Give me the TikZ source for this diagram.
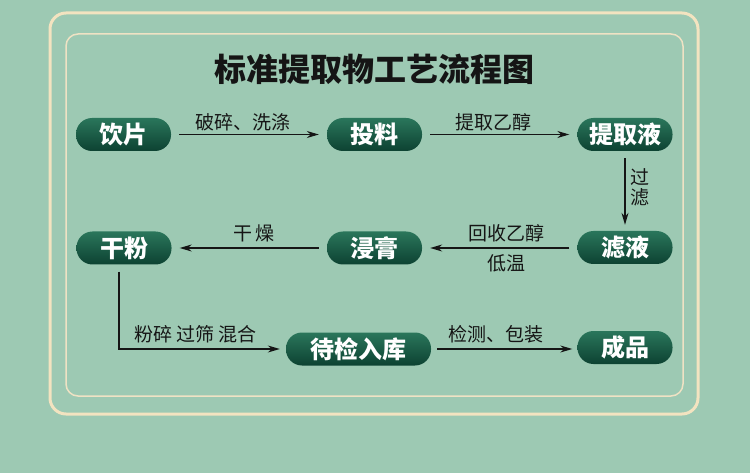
\documentclass[tikz,border=0pt]{standalone}
\usepackage{fontspec}
\newfontfamily\cjk{Noto Sans CJK SC}
\usetikzlibrary{arrows.meta}
\definecolor{bg}{HTML}{9DC9B3}
\definecolor{frameout}{HTML}{F3E3C0}
\definecolor{framein}{HTML}{EFE2C4}
\definecolor{ntop}{HTML}{2A765B}
\definecolor{nbot}{HTML}{0D4232}
\definecolor{ink}{HTML}{151515}
\tikzset{
  stage/.style={rounded corners=16pt, minimum width=95pt, minimum height=33pt,
    top color=ntop, bottom color=nbot, draw=none, text=white, inner sep=0pt,
    font=\cjk\bfseries\fontsize{24}{24}\selectfont},
  flow/.style={draw=ink, line width=1.2pt, -{Stealth[length=12pt,width=7pt]},
    shorten <=8pt, shorten >=8pt},
  lbl/.style={text=ink, inner sep=0pt, font=\cjk\fontsize{19}{20}\selectfont},
  title/.style={text=ink, inner sep=0pt, font=\cjk\bfseries\fontsize{32}{32}\selectfont}
}
\begin{document}
\begin{tikzpicture}[x=1pt,y=-1pt]
\fill[bg] (0,0) rectangle (750,473);
\useasboundingbox (0,0) rectangle (750,473);
% frames
\draw[frameout, line width=3pt, rounded corners=16pt] (50,13) rectangle (698,414);
\draw[framein, line width=1.5pt, rounded corners=12pt] (66,34) rectangle (683,396);
% title
\node[title] (title) at (374.5,69) {标准提取物工艺流程图};
% stages
\node[stage] (yp) at (123.5,134.5) {饮片};
\node[stage] (tl) at (374.5,134.5) {投料};
\node[stage] (tqy) at (625,134.5) {提取液};
\node[stage] (gf) at (124,248) {干粉};
\node[stage] (jg) at (374.5,248) {浸膏};
\node[stage] (ly) at (625,247.5) {滤液};
\node[stage, minimum width=145pt] (djrk) at (358.5,349) {待检入库};
\node[stage] (cp) at (625,347.5) {成品};
% connectors
\draw[flow] (yp) -- node[lbl, midway, above=3pt, xshift=-6pt] {破碎、洗涤} (tl);
\draw[flow] (tl) -- node[lbl, midway, above=3pt, xshift=-6pt] {提取乙醇} (tqy);
\draw[flow, shorten <=7pt, shorten >=6pt] (tqy) -- node[lbl, midway, right=5pt, yshift=4pt, align=center] {过\\滤} (ly);
\draw[flow] (ly.west |- jg) -- node[lbl, midway, above=5pt, xshift=7pt] {回收乙醇} node[lbl, midway, below=6pt, xshift=7pt] {低温} (jg);
\draw[flow] (jg) -- node[lbl, midway, above=5pt, xshift=5pt] {干\,燥} (gf);
\draw[flow, shorten <=7pt, shorten >=6pt] ([xshift=-5pt]gf.south) |- node[lbl, pos=0.73, above=5pt] {粉碎 过筛 混合} (djrk.west);
\draw[flow, shorten <=6pt, shorten >=5pt] (djrk.east) -- node[lbl, midway, above=5pt, xshift=-8pt] {检测、包装} (djrk.east -| cp.west);
\end{tikzpicture}
\end{document}
